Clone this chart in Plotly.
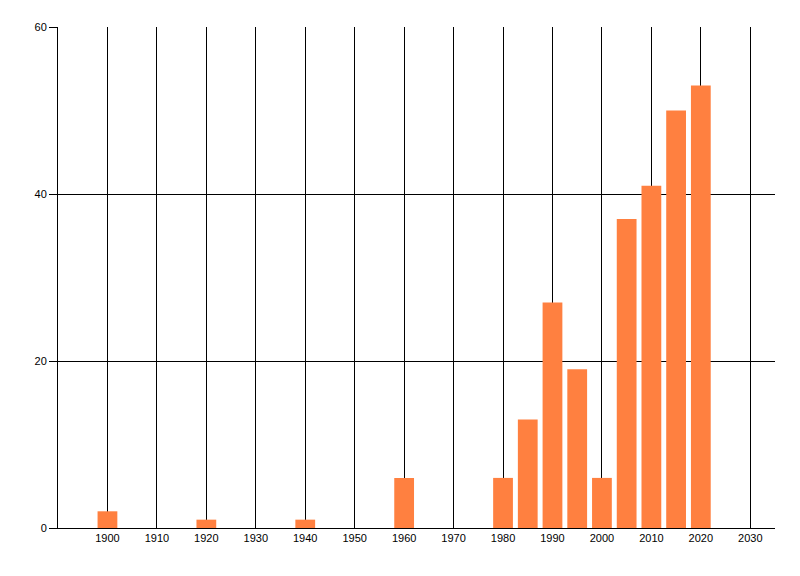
import plotly.graph_objects as go

# Number of items per year bucket
years = [1900, 1920, 1940, 1960, 1980, 1985, 1990, 1995, 2000, 2005, 2010, 2015, 2020]
counts = [2, 1, 1, 6, 6, 13, 27, 19, 6, 37, 41, 50, 53]

x_ticks = list(range(1900, 2031, 10))
y_ticks = [0, 20, 40, 60]

fig = go.Figure(data=[
    go.Bar(
        x=years,
        y=counts,
        width=4,
        marker_color='#FF8040',
        marker_line_width=0,
    )
])

# page body adds ~8px offset, margins compensate for it
fig.update_layout(
    width=800,
    height=576,
    margin=dict(l=50, r=33, t=19, b=56),
    plot_bgcolor='white',
    paper_bgcolor='white',
    font=dict(family='Liberation Sans, DejaVu Sans, sans-serif', size=11, color='black'),
    showlegend=False,
    xaxis=dict(
        range=[1890, 2035],
        tickmode='array',
        tickvals=x_ticks,
        ticktext=[str(t) for t in x_ticks],
        showgrid=True,
        gridcolor='black',
        gridwidth=1,
        showline=True,
        linecolor='black',
        linewidth=1,
        ticks='',
        zeroline=False,
        automargin=False,
        layer='below traces',
    ),
    yaxis=dict(
        range=[0, 60],
        tickmode='array',
        tickvals=y_ticks,
        showgrid=True,
        gridcolor='black',
        gridwidth=1,
        showline=True,
        linecolor='black',
        linewidth=1,
        ticks='outside',
        ticklen=8,
        tickcolor='black',
        zeroline=False,
        automargin=False,
        layer='below traces',
    ),
)

fig.write_html("out.html")
